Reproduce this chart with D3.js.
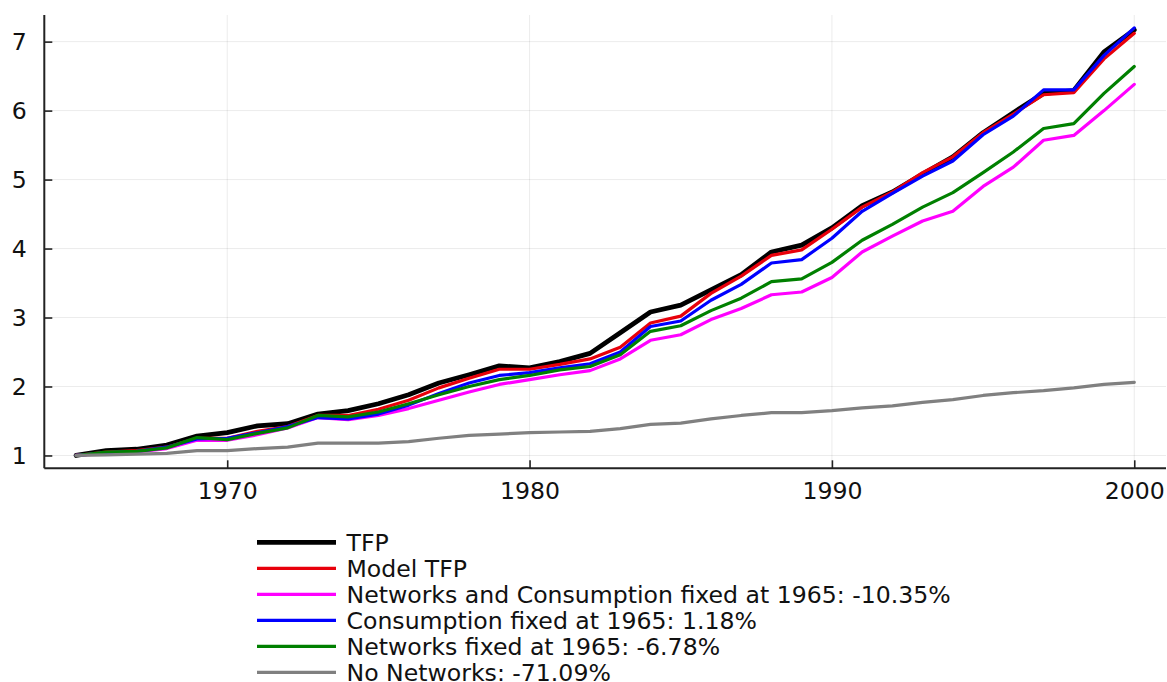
<!DOCTYPE html>
<html>
<head>
<meta charset="utf-8">
<script src="https://cdn.jsdelivr.net/npm/d3@7"></script>
<style>
  html, body { margin: 0; padding: 0; background: #fff; }
  svg { display: block; font-family: "DejaVu Sans", sans-serif; }
</style>
</head>
<body>
<svg id="chart" width="1167" height="682"></svg>
<script>
// Years 1965–2000
const years = d3.range(1965, 2001);

// Index levels (1965 = 1)
const tfp = [1.00, 1.07, 1.09, 1.15, 1.28, 1.33, 1.43, 1.46, 1.60, 1.65, 1.75, 1.88,
             2.05, 2.17, 2.30, 2.27, 2.36, 2.48, 2.78, 3.08, 3.18, 3.40, 3.62, 3.95,
             4.05, 4.30, 4.62, 4.82, 5.08, 5.33, 5.68, 5.97, 6.25, 6.29, 6.85, 7.17];
const modelTfp = [1.00, 1.05, 1.07, 1.12, 1.25, 1.25, 1.35, 1.42, 1.58, 1.58, 1.67, 1.80,
             1.98, 2.12, 2.25, 2.25, 2.32, 2.40, 2.57, 2.92, 3.02, 3.35, 3.60, 3.90,
             3.98, 4.28, 4.60, 4.82, 5.10, 5.33, 5.68, 5.95, 6.23, 6.26, 6.75, 7.12];
const netConsFixed = [1.00, 1.03, 1.05, 1.10, 1.22, 1.22, 1.30, 1.40, 1.55, 1.52, 1.58, 1.68,
             1.80, 1.92, 2.03, 2.10, 2.17, 2.23, 2.40, 2.67, 2.75, 2.97, 3.13, 3.33,
             3.37, 3.58, 3.95, 4.18, 4.40, 4.54, 4.90, 5.18, 5.57, 5.64, 6.00, 6.38];
const consFixed = [1.00, 1.04, 1.06, 1.12, 1.24, 1.25, 1.33, 1.42, 1.55, 1.53, 1.60, 1.73,
             1.90, 2.05, 2.16, 2.20, 2.27, 2.33, 2.50, 2.87, 2.95, 3.25, 3.48, 3.79,
             3.84, 4.15, 4.54, 4.80, 5.05, 5.27, 5.65, 5.92, 6.30, 6.30, 6.80, 7.20];
const netFixed = [1.00, 1.05, 1.06, 1.11, 1.26, 1.23, 1.32, 1.40, 1.58, 1.56, 1.63, 1.75,
             1.88, 2.00, 2.10, 2.16, 2.24, 2.29, 2.46, 2.80, 2.88, 3.10, 3.28, 3.52,
             3.56, 3.80, 4.12, 4.35, 4.60, 4.81, 5.10, 5.40, 5.74, 5.81, 6.25, 6.64];
const noNetworks = [1.00, 1.01, 1.02, 1.03, 1.07, 1.07, 1.10, 1.12, 1.18, 1.18, 1.18, 1.20,
             1.25, 1.29, 1.31, 1.33, 1.34, 1.35, 1.39, 1.45, 1.47, 1.53, 1.58, 1.62,
             1.62, 1.65, 1.69, 1.72, 1.77, 1.81, 1.87, 1.91, 1.94, 1.98, 2.03, 2.06];

// Series labels and colours, in drawing order
const seriesNames = ["TFP", "Model TFP", "Networks and Consumption fixed at 1965: -10.35%",
                     "Consumption fixed at 1965: 1.18%", "Networks fixed at 1965: -6.78%",
                     "No Networks: -71.09%"];
const seriesValues = [tfp, modelTfp, netConsFixed, consFixed, netFixed, noNetworks];
const seriesColors = ["#000000", "#e8000b", "#ff00ff", "#0000ff", "#008000", "#808080"];
const seriesWidths = [4.8, 3.2, 3.2, 3.2, 3.2, 3.2];

// Axis ticks
const xTicks = [1970, 1980, 1990, 2000];
const yTicks = [1, 2, 3, 4, 5, 6, 7];

const fontSize = 23.6;

const svg = d3.select("#chart");

const plot = { left: 44.3, right: 1166, top: 15, bottom: 468.3 };

const x = d3.scaleLinear().domain([1963.95, 2001.05]).range([plot.left, plot.right]);
const y = d3.scaleLinear().domain([0.814, 7.386]).range([plot.bottom, plot.top]);

// Grid
const grid = svg.append("g").attr("stroke", "#000").attr("stroke-opacity", 0.08).attr("stroke-width", 1);
grid.selectAll("line.gx").data(xTicks).join("line")
  .attr("x1", d => x(d)).attr("x2", d => x(d))
  .attr("y1", plot.top).attr("y2", plot.bottom);
grid.selectAll("line.gy").data(yTicks).join("line")
  .attr("y1", d => y(d)).attr("y2", d => y(d))
  .attr("x1", plot.left).attr("x2", plot.right);

// Axes with inward ticks
const xAxis = d3.axisBottom(x).tickValues(xTicks).tickFormat(d3.format("d"))
  .tickSizeInner(-8).tickSizeOuter(0).tickPadding(14);
const yAxis = d3.axisLeft(y).tickValues(yTicks).tickFormat(d3.format("d"))
  .tickSizeInner(-8).tickSizeOuter(0).tickPadding(17.5);

const gx = svg.append("g").attr("transform", `translate(0,${plot.bottom})`).call(xAxis);
const gy = svg.append("g").attr("transform", `translate(${plot.left},0)`).call(yAxis);

[gx, gy].forEach(g => {
  g.select(".domain").attr("stroke", "#222").attr("stroke-width", 2);
  g.selectAll(".tick line").attr("stroke", "#222").attr("stroke-width", 1.6);
  g.selectAll(".tick text").attr("fill", "#111").attr("font-size", fontSize)
    .attr("font-family", "DejaVu Sans, sans-serif");
});
gy.select(".domain").attr("d", `M0,${plot.top}V${plot.bottom}`);
gx.select(".domain").attr("d", `M${plot.left},0H${plot.right}`);

// Lines
const line = d3.line().x((d, i) => x(years[i])).y(d => y(d));
svg.append("g").selectAll("path").data(seriesValues).join("path")
  .attr("d", line)
  .attr("fill", "none")
  .attr("stroke", (d, i) => seriesColors[i])
  .attr("stroke-width", (d, i) => seriesWidths[i])
  .attr("stroke-linejoin", "round")
  .attr("stroke-linecap", "round");

// Legend
const legend = svg.append("g").attr("transform", "translate(257,542.3)");
const rows = legend.selectAll("g").data(seriesNames).join("g")
  .attr("transform", (d, i) => `translate(0,${i * 26})`);
rows.append("line")
  .attr("x1", 0).attr("x2", 79).attr("y1", 0).attr("y2", 0)
  .attr("stroke", (d, i) => seriesColors[i])
  .attr("stroke-width", (d, i) => seriesWidths[i]);
rows.append("text")
  .attr("x", 89.5).attr("y", 0).attr("dy", "0.35em")
  .attr("font-size", fontSize).attr("fill", "#111")
  .text(d => d);
</script>
</body>
</html>
